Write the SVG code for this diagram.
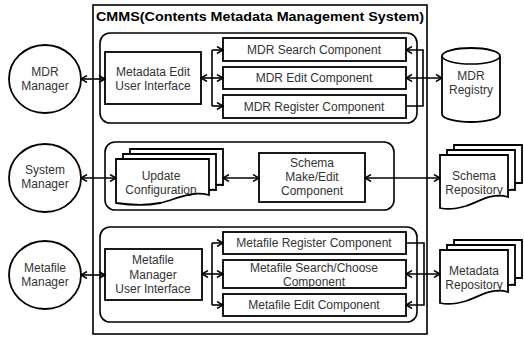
<svg xmlns="http://www.w3.org/2000/svg" width="524" height="338" viewBox="0 0 524 338">
  <style>
    .ln { fill: none; stroke: #000; stroke-width: 1.6; }
    .box { fill: #fff; stroke: #000; stroke-width: 1.8; }
    .grp { fill: #fff; stroke: #000; stroke-width: 1.6; }
    .lbl { font-family: "Liberation Sans", Arial, sans-serif; font-size: 12px; fill: #333; text-anchor: middle; }
    .title { font-family: "Liberation Sans", Arial, sans-serif; font-size: 13px; font-weight: bold; fill: #000; }
    .arr { marker-end: url(#ah); }
    .arr2 { marker-start: url(#ah); marker-end: url(#ah); }
  </style>
  <defs>
    <marker id="ah" viewBox="0 0 8 8" refX="7" refY="4" markerWidth="8" markerHeight="8" markerUnits="userSpaceOnUse" orient="auto-start-reverse">
      <path d="M1,0.5 L7,4 L1,7.5" fill="none" stroke="#000" stroke-width="1.5"/>
    </marker>
  </defs>

  <rect width="524" height="338" fill="#fff"/>

  <!-- outer system boundary -->
  <g id="cmms">
    <rect class="ln" x="93" y="5" width="334" height="329"/>
    <text class="title" x="96" y="21" textLength="328" lengthAdjust="spacingAndGlyphs">CMMS(Contents Metadata Management System)</text>
  </g>

  <!-- actors -->
  <g id="mdr-manager">
    <ellipse class="box" cx="45" cy="79" rx="36" ry="34"/>
    <text class="lbl" x="45" y="76">MDR</text>
    <text class="lbl" x="45" y="90">Manager</text>
  </g>
  <g id="system-manager">
    <ellipse class="box" cx="45" cy="178" rx="36" ry="34"/>
    <text class="lbl" x="45" y="174">System</text>
    <text class="lbl" x="45" y="188">Manager</text>
  </g>
  <g id="metafile-manager">
    <ellipse class="box" cx="45" cy="275" rx="36" ry="34"/>
    <text class="lbl" x="45" y="272">Metafile</text>
    <text class="lbl" x="45" y="286">Manager</text>
  </g>

  <!-- subsystem groups -->
  <g id="mdr-group"><rect class="grp" x="100" y="33" width="317" height="90" rx="10"/></g>
  <g id="schema-group"><rect class="grp" x="105" y="142" width="289" height="68" rx="10"/></g>
  <g id="metafile-group"><rect class="grp" x="100" y="227" width="317" height="95" rx="10"/></g>

  <!-- MDR components -->
  <g id="metadata-edit-ui">
    <rect class="box" x="105" y="52" width="96" height="52"/>
    <text class="lbl" x="153" y="76">Metadata Edit</text>
    <text class="lbl" x="153" y="90">User Interface</text>
  </g>
  <g id="mdr-search">
    <rect class="box" x="223" y="38" width="183" height="23"/>
    <text class="lbl" x="314" y="54">MDR Search Component</text>
  </g>
  <g id="mdr-edit">
    <rect class="box" x="223" y="67" width="183" height="22"/>
    <text class="lbl" x="314" y="82">MDR Edit Component</text>
  </g>
  <g id="mdr-register">
    <rect class="box" x="223" y="95" width="183" height="23"/>
    <text class="lbl" x="314" y="111">MDR Register Component</text>
  </g>

  <!-- schema components -->
  <g id="update-configuration">
    <path class="box" d="M130,149 H223 V185 C210,183 200,192 190,190 H130 Z"/>
    <path class="box" d="M123,154 H216 V190 C203,188 193,197 183,195 H123 Z"/>
    <path class="box" d="M116,159 H209 V195 C190,190 175,200 160,203 C145,206 130,205 116,203 Z"/>
    <text class="lbl" x="161" y="180">Update</text>
    <text class="lbl" x="161" y="194">Configuration</text>
  </g>
  <g id="schema-make-edit">
    <rect class="box" x="259" y="153" width="106" height="49"/>
    <text class="lbl" x="312" y="167">Schema</text>
    <text class="lbl" x="312" y="181">Make/Edit</text>
    <text class="lbl" x="312" y="195">Component</text>
  </g>

  <!-- metafile components -->
  <g id="metafile-manager-ui">
    <rect class="box" x="105" y="249" width="97" height="51"/>
    <text class="lbl" x="153" y="264">Metafile</text>
    <text class="lbl" x="153" y="279">Manager</text>
    <text class="lbl" x="153" y="293">User Interface</text>
  </g>
  <g id="metafile-register">
    <rect class="box" x="223" y="232" width="183" height="22"/>
    <text class="lbl" x="314" y="247">Metafile Register Component</text>
  </g>
  <g id="metafile-search-choose">
    <rect class="box" x="223" y="260" width="183" height="28"/>
    <text class="lbl" x="314" y="272">Metafile Search/Choose</text>
    <text class="lbl" x="314" y="286">Component</text>
  </g>
  <g id="metafile-edit">
    <rect class="box" x="223" y="294" width="183" height="22"/>
    <text class="lbl" x="314" y="309">Metafile Edit Component</text>
  </g>

  <!-- repositories -->
  <g id="mdr-registry">
    <path class="box" d="M442,56 V114 A29,8 0 0 0 500,114 V56 A29,8 0 0 0 442,56 Z"/>
    <path class="ln" d="M442,56 A29,8 0 0 0 500,56"/>
    <text class="lbl" x="471" y="80">MDR</text>
    <text class="lbl" x="471" y="94">Registry</text>
  </g>
  <g id="schema-repository">
    <path class="box" d="M454,145 H522 V183 H454 Z"/>
    <path class="box" d="M447,150 H515 V190 C505,188 495,196 485,196 H447 Z"/>
    <path class="box" d="M440,155 H508 V197 C492,192 478,202 466,206 C456,209 448,210 440,208 Z"/>
    <text class="lbl" x="474" y="180">Schema</text>
    <text class="lbl" x="474" y="194">Repository</text>
  </g>
  <g id="metadata-repository">
    <path class="box" d="M454,240 H522 V278 H454 Z"/>
    <path class="box" d="M447,245 H515 V285 C505,283 495,291 485,291 H447 Z"/>
    <path class="box" d="M440,250 H508 V292 C492,287 478,297 466,301 C456,304 448,305 440,303 Z"/>
    <text class="lbl" x="474" y="275">Metadata</text>
    <text class="lbl" x="474" y="289">Repository</text>
  </g>

  <!-- connectors -->
  <g id="connectors">
    <line class="ln arr2" x1="81" y1="79" x2="105" y2="79"/>
    <line class="ln arr2" x1="81" y1="178" x2="116" y2="178"/>
    <line class="ln arr2" x1="81" y1="275" x2="105" y2="275"/>

    <!-- MDR left bus -->
    <line class="ln arr2" x1="201" y1="78" x2="223" y2="78"/>
    <path class="ln" d="M212,50 V106"/>
    <path class="ln arr" d="M212,50 H223"/>
    <path class="ln arr" d="M212,106 H223"/>
    <!-- MDR right bus -->
    <path class="ln arr" d="M406,106 H423 V50 H406"/>
    <line class="ln arr2" x1="406" y1="78" x2="442" y2="78"/>

    <!-- schema -->
    <line class="ln arr2" x1="223" y1="178" x2="259" y2="178"/>
    <line class="ln arr2" x1="365" y1="178" x2="440" y2="178"/>

    <!-- metafile left bus -->
    <line class="ln arr2" x1="202" y1="274" x2="223" y2="274"/>
    <path class="ln" d="M212,243 V305"/>
    <path class="ln arr" d="M212,243 H223"/>
    <path class="ln arr" d="M212,305 H223"/>
    <!-- metafile right bus -->
    <path class="ln arr" d="M406,243 H424 V305 H406"/>
    <line class="ln arr2" x1="406" y1="274" x2="440" y2="274"/>
  </g>
</svg>
